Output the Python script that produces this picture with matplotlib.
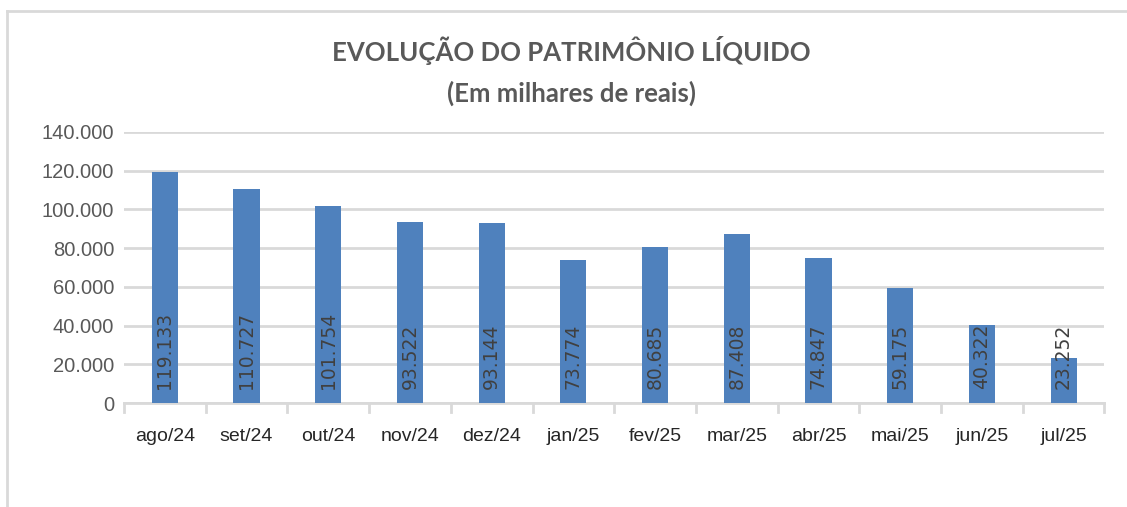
import matplotlib.pyplot as plt
from matplotlib.lines import Line2D
import numpy as np

months = ["ago/24", "set/24", "out/24", "nov/24", "dez/24", "jan/25",
          "fev/25", "mar/25", "abr/25", "mai/25", "jun/25", "jul/25"]
valores = [119133, 110727, 101754, 93522, 93144, 73774,
           80685, 87408, 74847, 59175, 40322, 23252]
yticks = [0, 20000, 40000, 60000, 80000, 100000, 120000, 140000]

def fmt_br(v):
    return f"{v:,}".replace(",", ".")

plt.rcParams['font.family'] = ['Liberation Sans', 'DejaVu Sans']

fig = plt.figure(figsize=(11.27, 5.07), dpi=100)
ax = fig.add_axes([0.110, 0.205, 0.870, 0.535])

x = np.arange(len(months))
bars = ax.bar(x, valores, width=0.32, color='#4F81BD', zorder=3)

# rotated labels inside the bars, starting a little above the base
for xi, v in zip(x, valores):
    ax.text(xi, 7500, fmt_br(v), rotation=90, ha='center', va='bottom',
            fontsize=13.5, color='#404040', family='DejaVu Sans', zorder=4)

ax.set_xlim(-0.5, len(months) - 0.5)
ax.set_ylim(0, 140000)
ax.set_yticks(yticks)
ax.set_yticklabels(["0" if t == 0 else fmt_br(t) for t in yticks],
                   fontsize=14.5, color='#595959')
ax.set_xticks(x)
ax.set_xticklabels(months, fontsize=14, color='#262626')
ax.tick_params(axis='y', length=0, pad=7)
ax.tick_params(axis='x', length=0, pad=18)

ax.grid(axis='y', color='#D9D9D9', linewidth=2, zorder=0)
ax.set_axisbelow(True)
for s in ['top', 'right', 'left']:
    ax.spines[s].set_visible(False)
ax.spines['bottom'].set_color('#D9D9D9')
ax.spines['bottom'].set_linewidth(2)

# category separator ticks on x axis
for b in np.arange(-0.5, len(months), 1.0):
    ax.plot([b, b], [0, -4500], color='#D9D9D9', linewidth=2,
            clip_on=False, zorder=2)

fig.text(0.507, 0.900, "EVOLUÇÃO DO PATRIMÔNIO LÍQUIDO", ha='center',
         va='center', fontsize=18.5, fontweight='bold', color='#595959',
         family='Lato')
fig.text(0.507, 0.815, "(Em milhares de reais)", ha='center',
         va='center', fontsize=18.5, fontweight='bold', color='#595959',
         family='Lato')

# outer chart border (top and left visible)
fig.add_artist(Line2D([0.006, 1.0], [0.978, 0.978], color='#D9D9D9',
                      linewidth=2, transform=fig.transFigure))
fig.add_artist(Line2D([0.006, 0.006], [0.0, 0.978], color='#D9D9D9',
                      linewidth=2, transform=fig.transFigure))

fig.savefig("out.png", dpi=100)
